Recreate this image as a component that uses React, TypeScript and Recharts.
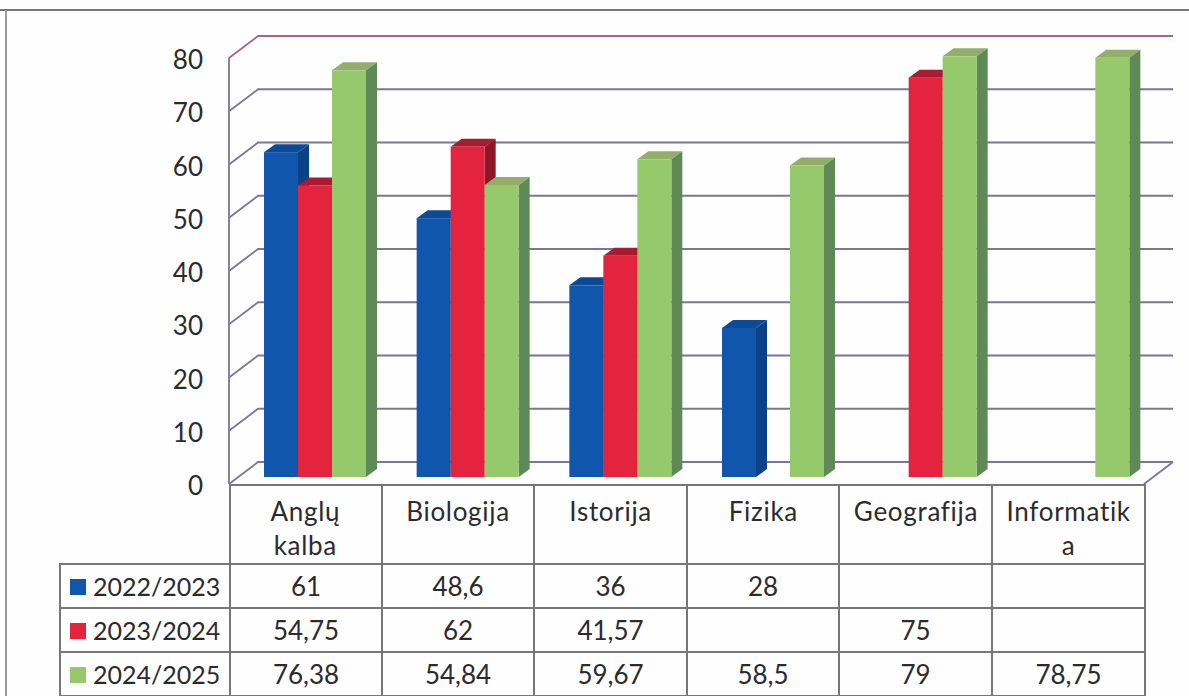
import { BarChart, Bar, XAxis, YAxis, CartesianGrid } from "recharts"

const categories = ["Anglų kalba", "Biologija", "Istorija", "Fizika", "Geografija", "Informatika"]
const categoryLines = [["Anglų", "kalba"], ["Biologija"], ["Istorija"], ["Fizika"], ["Geografija"], ["Informatik", "a"]]
const series2022 = [61, 48.6, 36, 28, null, null]
const series2023 = [54.75, 62, 41.57, null, 75, null]
const series2024 = [76.38, 54.84, 59.67, 58.5, 79, 78.75]
const yTicks = [0, 10, 20, 30, 40, 50, 60, 70, 80]

const seriesNames = ["2022/2023", "2023/2024", "2024/2025"]
const seriesValues = [series2022, series2023, series2024]
const FRONT = ["#1056ad", "#e4243f", "#95c96c"]
const TOPS = ["#0c4a98", "#a91b30", "#93ae68"]
const SIDES = ["#0b4287", "#8f1529", "#5f8a58"]

const data = categories.map((name, i) => ({
  name,
  a: series2022[i],
  b: series2023[i],
  c: series2024[i],
}))

const FONT = "Lato, sans-serif"
const TEXT = "#2b2b2d"
const GRID = "#7c7499"
const BORDER = "#77777b"

const PLOT_TOP = 51
const PLOT_BOTTOM = 477
const PLOT_LEFT = 239
const DEPTH_X = 11
const DEPTH_Y = 8

// the 3D box of one bar
function Box3D(props: any) {
  const { x, y, width, height, colorIndex } = props
  if (!height || height <= 0 || y == null) return null
  const r = x + width
  const b = y + height
  return (
    <g>
      <polygon points={`${x},${y} ${x + DEPTH_X},${y - DEPTH_Y} ${r + DEPTH_X},${y - DEPTH_Y} ${r},${y}`} fill={TOPS[colorIndex]} />
      <polygon points={`${r},${y} ${r + DEPTH_X},${y - DEPTH_Y} ${r + DEPTH_X},${b - DEPTH_Y} ${r},${b}`} fill={SIDES[colorIndex]} />
      <rect x={x} y={y} width={width} height={height} fill={FRONT[colorIndex]} />
    </g>
  )
}

// back wall line, left wall diagonal, plus axis and floor edges
function WallLine(props: any) {
  const { x1, x2, y1 } = props
  const frontX = x1 - 10
  const frontY = y1 + 7
  const backX = x1 + 19
  const backY = y1 - 15
  const isTop = Math.abs(y1 - PLOT_TOP) < 1
  const isBottom = Math.abs(y1 - PLOT_BOTTOM) < 1
  return (
    <g fill="none" strokeWidth={1.8}>
      <path d={`M${frontX},${frontY} L${backX},${backY} L${x2 + 18},${backY}`} stroke={isTop ? "#a9638a" : GRID} />
      {isBottom && (
        <path
          d={`M${frontX},${PLOT_TOP + 7} L${frontX},${frontY} M${x2 - 11},${frontY} L${x2 + 18},${backY}`}
          stroke={GRID}
        />
      )}
    </g>
  )
}

function YTick(props: any) {
  const { y, payload } = props
  return (
    <text x={203} y={y + 9} dy="0.35em" textAnchor="end" fontFamily={FONT} fontSize={26} fill={TEXT}>
      {payload.value}
    </text>
  )
}

function XTick(props: any) {
  const { x, index } = props
  const lines = categoryLines[index] || []
  return (
    <text
      x={x - 10}
      y={PLOT_BOTTOM + 44}
      textAnchor="middle"
      fontFamily={FONT}
      fontSize={26}
      letterSpacing={0.7}
      fill={TEXT}
    >
      {lines.map((line, i) => (
        <tspan key={i} x={x - 10} dy={i === 0 ? 0 : 34}>
          {line}
        </tspan>
      ))}
    </text>
  )
}

const colWidths = [170, 152, 152, 153, 152, 153, 153]
const cellStyle = {
  border: `2px solid ${BORDER}`,
  padding: 0,
  textAlign: "center" as const,
  fontFamily: FONT,
  fontSize: 26,
  color: TEXT,
}

function DataTable() {
  return (
    <table
      style={{
        position: "absolute",
        left: 59,
        top: 484,
        borderCollapse: "collapse",
        tableLayout: "fixed",
        width: 1085,
      }}
    >
      <colgroup>
        {colWidths.map((w, i) => (
          <col key={i} style={{ width: w }} />
        ))}
      </colgroup>
      <tbody>
        <tr style={{ height: 79 }}>
          <td style={{ ...cellStyle, borderTop: "none", borderLeft: "none" }} />
          {categories.map((c) => (
            <td key={c} style={cellStyle} />
          ))}
        </tr>
        {seriesNames.map((name, s) => (
          <tr key={name} style={{ height: 44 }}>
            <td style={{ ...cellStyle, textAlign: "left", whiteSpace: "nowrap", fontSize: 25 }}>
              <span
                style={{
                  display: "inline-block",
                  position: "relative",
                  top: -1,
                  width: 16,
                  height: 16,
                  marginLeft: 9,
                  marginRight: 7,
                  background: FRONT[s],
                }}
              />
              {name}
            </td>
            {seriesValues[s].map((v, i) => (
              <td key={i} style={cellStyle}>
                {v == null ? "" : String(v).replace(".", ",")}
              </td>
            ))}
          </tr>
        ))}
      </tbody>
    </table>
  )
}

export default function App() {
  return (
    <div
      style={{
        position: "absolute",
        left: 0,
        top: 0,
        width: 1189,
        height: 696,
        overflow: "hidden",
        background: "#fefefe",
      }}
    >
      <div style={{ position: "absolute", left: 0, top: 9, width: 1189, height: 2, background: "#77777a" }} />
      <div style={{ position: "absolute", left: 5, top: 10, width: 2, height: 686, background: "#9a9a9e" }} />
      <DataTable />
      <div style={{ position: "absolute", left: 0, top: 0 }}>
        <BarChart
          width={1189}
          height={696}
          data={data}
          margin={{ top: PLOT_TOP, right: 34, bottom: 0, left: 0 }}
          barSize={34}
          barGap={0}
        >
          <CartesianGrid horizontal={(p: any) => <WallLine key={p.key} {...p} />} vertical={false} />
          <XAxis
            dataKey="name"
            height={696 - PLOT_BOTTOM}
            axisLine={false}
            tickLine={false}
            interval={0}
            tick={(p: any) => <XTick {...p} />}
          />
          <YAxis
            width={PLOT_LEFT}
            domain={[0, 80]}
            ticks={yTicks}
            axisLine={false}
            tickLine={false}
            tick={(p: any) => <YTick {...p} />}
          />
          <Bar dataKey="a" isAnimationActive={false} shape={(p: any) => <Box3D {...p} colorIndex={0} />} />
          <Bar dataKey="b" isAnimationActive={false} shape={(p: any) => <Box3D {...p} colorIndex={1} />} />
          <Bar dataKey="c" isAnimationActive={false} shape={(p: any) => <Box3D {...p} colorIndex={2} />} />
        </BarChart>
      </div>
    </div>
  )
}
